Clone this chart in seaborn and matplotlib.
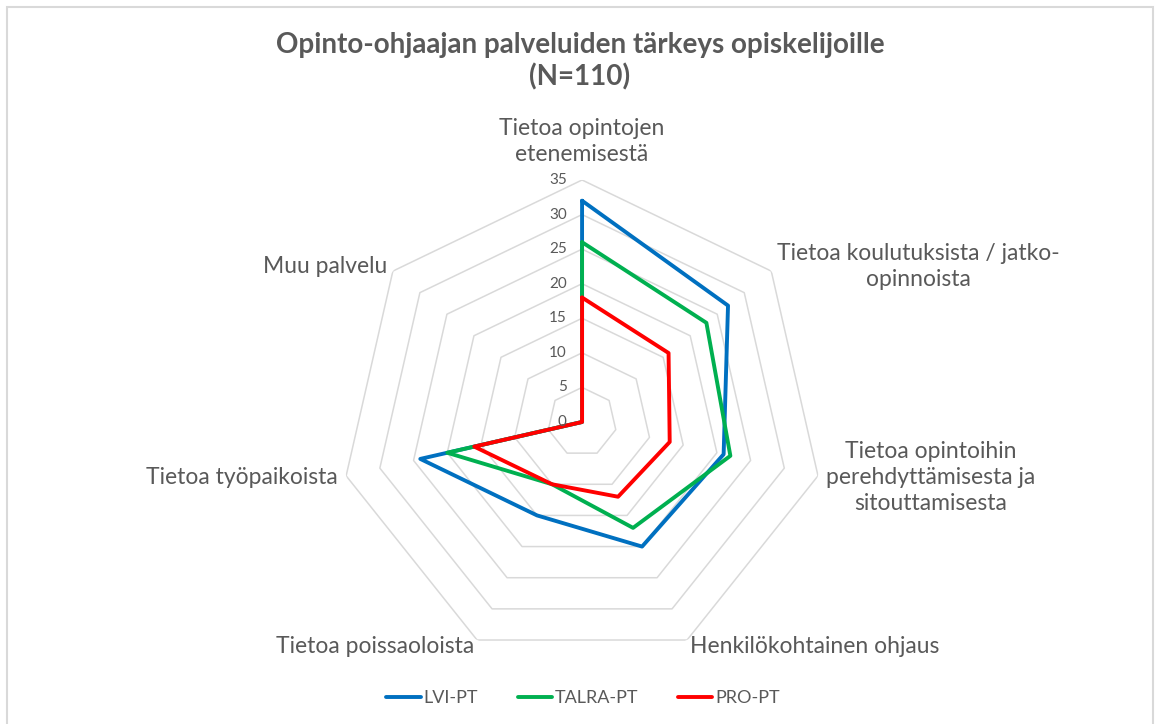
import numpy as np
import pandas as pd
import seaborn as sns
import matplotlib.pyplot as plt
from matplotlib.patches import Rectangle

# data
categories = ["Tietoa opintojen\netenemisestä",
              "Tietoa koulutuksista / jatko-\nopinnoista",
              "Tietoa opintoihin\nperehdyttämisesta ja\nsitouttamisesta",
              "Henkilökohtainen ohjaus",
              "Tietoa poissaoloista",
              "Tietoa työpaikoista",
              "Muu palvelu"]
series_names = ["LVI-PT", "TALRA-PT", "PRO-PT"]
lvi = [32, 27, 21, 20, 15, 24, 0]
talra = [26, 23, 22, 17, 10, 20, 0]
pro = [18, 16, 13, 12, 10, 16, 0]
colors = ["#0070C0", "#00B050", "#FF0000"]
levels = [0, 5, 10, 15, 20, 25, 30, 35]

sns.set_style("white")
plt.rcParams['font.family'] = ['Lato', 'DejaVu Sans']

n = len(categories)
theta = np.linspace(0, 2 * np.pi, n, endpoint=False)
theta_closed = np.append(theta, 2 * np.pi)

rows = []
for name, vals in zip(series_names, [lvi, talra, pro]):
    vals_closed = list(vals) + [vals[0]]
    for t, v in zip(theta_closed, vals_closed):
        rows.append({"theta": t, "value": v, "series": name})
df = pd.DataFrame(rows)

fig = plt.figure(figsize=(11.61, 7.24), dpi=100)
fig.patches.append(Rectangle((7 / 1161, -0.02), 1146 / 1161, 1.02 - 7 / 724,
                             transform=fig.transFigure, fill=False,
                             edgecolor="#d9d9d9", linewidth=1.5))

ax = fig.add_axes([0.2929, 0.0829, 0.4169, 0.6685], projection="polar")
ax.set_theta_zero_location("N")
ax.set_theta_direction(-1)
ax.grid(False)
ax.spines["polar"].set_visible(False)
ax.set_xticks([])
ax.set_yticks([])
ax.set_ylim(0, 35)

# heptagon grid
for lv in levels[1:]:
    ax.plot(theta_closed, [lv] * (n + 1), color="#d9d9d9", lw=1.1, zorder=1)

sns.lineplot(data=df, x="theta", y="value", hue="series", hue_order=series_names,
             palette=colors, sort=False, estimator=None, linewidth=2.8, ax=ax, zorder=3)
ax.set_xlabel("")
ax.set_ylabel("")

for lv in levels:
    ax.annotate(str(lv), xy=(0, lv), xytext=(-11, 0), textcoords="offset points",
                ha="right", va="center", fontsize=11, color="#595959")

label_r = [40.6, 36, 36.2, 36, 36, 36.3, 36]
label_ha = ["center", "left", "left", "left", "right", "right", "right"]
for t, lab, r, ha in zip(theta, categories, label_r, label_ha):
    ax.text(t, r, lab, ha=ha, va="center", multialignment="center",
            fontsize=16.5, color="#595959", clip_on=False, linespacing=1.3)

handles, labels = ax.get_legend_handles_labels()
ax.get_legend().remove()
fig.legend(handles, labels, loc="center", bbox_to_anchor=(583 / 1161, 0.036),
           ncol=3, frameon=False, fontsize=13, handlelength=1.9,
           handletextpad=0.15, columnspacing=2.2, labelcolor="#595959")

fig.text(580 / 1161, 1 - 61 / 724, "Opinto-ohjaajan palveluiden tärkeys opiskelijoille\n(N=110)",
         ha="center", va="center", fontsize=20, fontweight="bold", color="#595959",
         linespacing=1.25)

fig.savefig("out.png", dpi=100)
plt.close()
